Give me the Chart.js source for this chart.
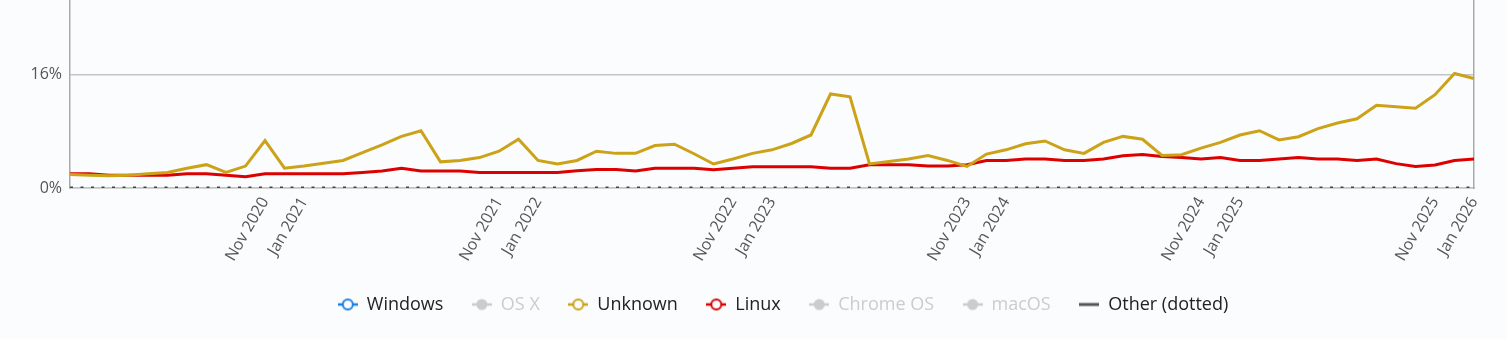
<!DOCTYPE html>
<html>
<head>
<meta charset="utf-8">
<script src="https://cdn.jsdelivr.net/npm/chart.js@4"></script>
<style>
	html, body { margin: 0; padding: 0; background: #fbfcfd; }
	#wrap { width: 1506px; height: 339px; position: relative; }
</style>
</head>
<body>
<div id="wrap"><canvas id="osChart"></canvas></div>
<script>
// monthly points, Jan 2020 .. Jan 2026
const monthNames = ['Jan', 'Feb', 'Mar', 'Apr', 'May', 'Jun', 'Jul', 'Aug', 'Sep', 'Oct', 'Nov', 'Dec'];
const years = [2020, 2021, 2022, 2023, 2024, 2025, 2026];
const months = [];
years.forEach((y) => monthNames.forEach((m) => months.push(m + ' ' + y)));
months.length = 73;

const shownTicks = [
	'Nov 2020', 'Jan 2021', 'Nov 2021', 'Jan 2022', 'Nov 2022', 'Jan 2023',
	'Nov 2023', 'Jan 2024', 'Nov 2024', 'Jan 2025', 'Nov 2025', 'Jan 2026',
];
const yTicks = [0, 16];

const unknownShare = [
	1.9, 1.8, 1.75, 1.8, 2.0, 2.2, 2.8, 3.3, 2.2, 3.1, 6.7, 2.8,
	3.1, 3.5, 3.9, 5.0, 6.1, 7.3, 8.1, 3.7, 3.9, 4.3, 5.2, 6.9,
	3.9, 3.4, 3.9, 5.2, 4.9, 4.9, 6.0, 6.2, 4.85, 3.4, 4.1, 4.9,
	5.4, 6.3, 7.5, 13.3, 12.9, 3.4, 3.75, 4.1, 4.6, 3.9, 3.05, 4.8,
	5.4, 6.25, 6.65, 5.4, 4.9, 6.45, 7.3, 6.9, 4.6, 4.7, 5.65, 6.45,
	7.5, 8.1, 6.8, 7.25, 8.4, 9.2, 9.8, 11.7, 11.5, 11.3, 13.2, 16.2,
	15.5,
];
const linuxShare = [
	2.0, 2.0, 1.8, 1.8, 1.8, 1.8, 2.0, 2.0, 1.8, 1.6, 2.0, 2.0,
	2.0, 2.0, 2.0, 2.2, 2.4, 2.8, 2.4, 2.4, 2.4, 2.2, 2.2, 2.2,
	2.2, 2.2, 2.45, 2.6, 2.6, 2.4, 2.8, 2.8, 2.8, 2.6, 2.8, 3.0,
	3.0, 3.0, 3.0, 2.8, 2.8, 3.3, 3.3, 3.3, 3.1, 3.1, 3.3, 3.9,
	3.9, 4.1, 4.1, 3.9, 3.9, 4.1, 4.55, 4.75, 4.45, 4.3, 4.1, 4.3,
	3.9, 3.9, 4.1, 4.3, 4.1, 4.1, 3.9, 4.1, 3.45, 3.05, 3.25, 3.9,
	4.1,
];
const otherShare = [
	0, 0, 0, 0, 0, 0, 0, 0, 0, 0, 0, 0,
	0, 0, 0, 0, 0, 0, 0, 0, 0, 0, 0, 0,
	0, 0, 0, 0, 0, 0, 0, 0, 0, 0, 0, 0,
	0, 0, 0, 0, 0, 0, 0, 0, 0, 0, 0, 0,
	0, 0, 0, 0, 0, 0, 0, 0, 0, 0, 0, 0,
	0, 0, 0, 0, 0, 0, 0, 0, 0, 0, 0, 0,
	0,
];

const BG = '#fbfcfd';
const HIDDEN = '#cccccc';

function legendIcon(color, hidden, lineOnly) {
	const c = document.createElement('canvas');
	c.width = 20;
	c.height = 14;
	const g = c.getContext('2d');
	g.strokeStyle = color;
	g.lineWidth = lineOnly ? 3 : 2.5;
	g.beginPath();
	g.moveTo(0, 7);
	g.lineTo(20, 7);
	g.stroke();
	if (!lineOnly) {
		g.beginPath();
		g.arc(10, 7, hidden ? 5.5 : 5, 0, Math.PI * 2);
		g.fillStyle = hidden ? color : BG;
		g.fill();
		if (!hidden) {
			g.lineWidth = 2;
			g.stroke();
		}
	}
	return c;
}

// the legend sits a little right of the plot centre in the original
const legendShift = {
	id: 'legendShift',
	afterLayout(chart) {
		chart.legend.left += 11;
		chart.legend.right += 11;
	},
};

Chart.defaults.font.family = "'Open Sans', sans-serif";

const series = [
	{ label: 'Windows', data: [], color: 'rgb(28, 128, 228)' },
	{ label: 'OS X', data: [], color: HIDDEN, hidden: true },
	{ label: 'Unknown', data: unknownShare, color: 'rgb(204, 162, 24)' },
	{ label: 'Linux', data: linuxShare, color: 'rgb(220, 0, 0)' },
	{ label: 'Chrome OS', data: [], color: HIDDEN, hidden: true },
	{ label: 'macOS', data: [], color: HIDDEN, hidden: true },
	{ label: 'Other (dotted)', data: otherShare, color: '#555555', dotted: true },
];

// eslint-disable-next-line no-new
new Chart(document.getElementById('osChart'), {
	type: 'line',
	plugins: [legendShift],
	data: {
		labels: months,
		datasets: series.map((s) => ({
			label: s.label,
			data: s.data,
			hidden: !!s.hidden,
			borderColor: s.dotted ? '#444444' : s.color,
			backgroundColor: s.color,
			borderWidth: 3,
			borderDash: s.dotted ? [3, 7.5] : [],
			pointRadius: 0,
			tension: 0,
			yAxisID: 'y',
		})),
	},
	options: {
		responsive: true,
		maintainAspectRatio: false,
		animation: false,
		layout: { padding: { left: 0, right: 32, top: 0, bottom: 15.5 } },
		plugins: {
			tooltip: { enabled: false },
			legend: {
				position: 'bottom',
				fullSize: false,
				labels: {
					usePointStyle: true,
					boxWidth: 20,
					pointStyleWidth: 20,
					padding: 28.5,
					font: { size: 18 },
					generateLabels: () => series.map((s, i) => ({
						text: s.label,
						datasetIndex: i,
						hidden: false,
						fontColor: s.hidden ? HIDDEN : '#222222',
						pointStyle: legendIcon(s.color, s.hidden, s.dotted),
						lineWidth: 0,
						strokeStyle: 'transparent',
						fillStyle: 'transparent',
					})),
				},
			},
		},
		scales: {
			x: {
				grid: { display: false, drawTicks: false },
				border: { display: true, color: '#c4c4c4', width: 1.5 },
				ticks: {
					autoSkip: false,
					minRotation: 60,
					maxRotation: 60,
					padding: 6,
					color: '#555555',
					font: { size: 16 },
					callback(value) {
						const lab = this.getLabelForValue(value);
						return shownTicks.includes(lab) ? lab : '';
					},
				},
				afterFit(scale) {
					scale.height = 79;
					scale.paddingLeft = 0;
					scale.paddingRight = 0;
				},
			},
			y: {
				min: 0,
				max: 26.6,
				grid: { color: '#c4c4c4', lineWidth: 1.5, drawTicks: false },
				border: { display: true, color: '#aaaaaa', width: 1.5 },
				ticks: {
					padding: 8,
					color: '#555555',
					font: { size: 16 },
					callback: (v) => v + '%',
				},
				afterBuildTicks(scale) {
					scale.ticks = yTicks.map((v) => ({ value: v }));
				},
				afterFit(scale) {
					scale.width = 70;
					scale.paddingTop = 0;
					scale.paddingBottom = 0;
				},
			},
			y1: {
				position: 'right',
				grid: { display: false, drawTicks: false },
				border: { display: true, color: '#aaaaaa', width: 1.5 },
				ticks: { display: false },
				afterFit(scale) {
					scale.width = 0;
					scale.paddingTop = 0;
					scale.paddingBottom = 0;
				},
			},
		},
	},
});
</script>
</body>
</html>
